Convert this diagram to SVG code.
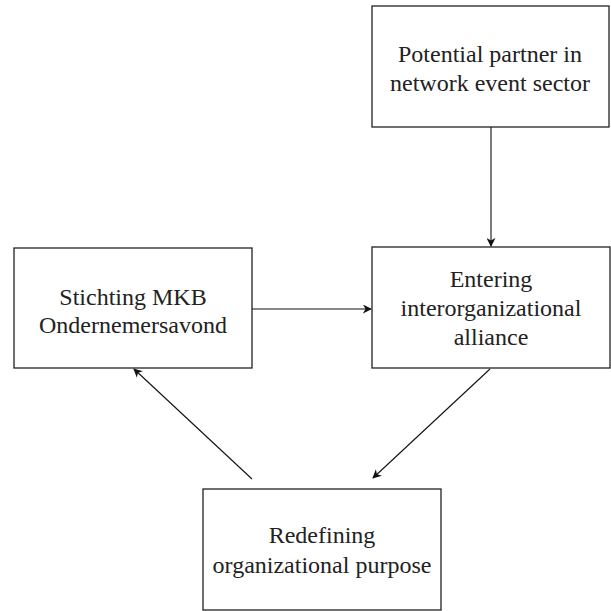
<svg xmlns="http://www.w3.org/2000/svg" width="611" height="611" viewBox="0 0 611 611">
<style>
.box{fill:#fff;stroke:#222;stroke-width:1.3}
.t{font-family:'Liberation Serif','Times New Roman',Tinos,'DejaVu Serif',serif;font-size:24px;fill:#222;text-anchor:middle}
.c{stroke:#111;stroke-width:1.1;fill:none;marker-end:url(#ah)}
</style>
<defs>
<marker id="ah" viewBox="0 0 10 10" refX="9" refY="5" markerWidth="9" markerHeight="9" markerUnits="userSpaceOnUse" orient="auto">
<path d="M0,0 L10,5 L0,10 L3,5 z" fill="#111"/>
</marker>
</defs>
<rect width="611" height="611" fill="#fff"/>
<g id="partner">
<rect class="box" x="372" y="6" width="237" height="121"/>
<text class="t" x="490" y="62">Potential partner in</text>
<text class="t" x="490" y="91">network event sector</text>
</g>
<g id="stichting">
<rect class="box" x="14" y="248" width="238" height="120"/>
<text class="t" x="133" y="305">Stichting MKB</text>
<text class="t" x="133" y="333">Ondernemersavond</text>
</g>
<g id="entering">
<rect class="box" x="372" y="247" width="238" height="121"/>
<text class="t" x="491" y="287">Entering</text>
<text class="t" x="491" y="316">interorganizational</text>
<text class="t" x="491" y="345">alliance</text>
</g>
<g id="redefining">
<rect class="box" x="203" y="489" width="238" height="121"/>
<text class="t" x="322" y="543">Redefining</text>
<text class="t" x="322" y="573">organizational purpose</text>
</g>
<g id="connectors">
<line class="c" x1="491" y1="127" x2="491" y2="246"/>
<line class="c" x1="252" y1="309" x2="371" y2="309"/>
<line class="c" x1="490" y1="369" x2="373" y2="478"/>
<line class="c" x1="252" y1="479" x2="134" y2="369"/>
</g>
</svg>
